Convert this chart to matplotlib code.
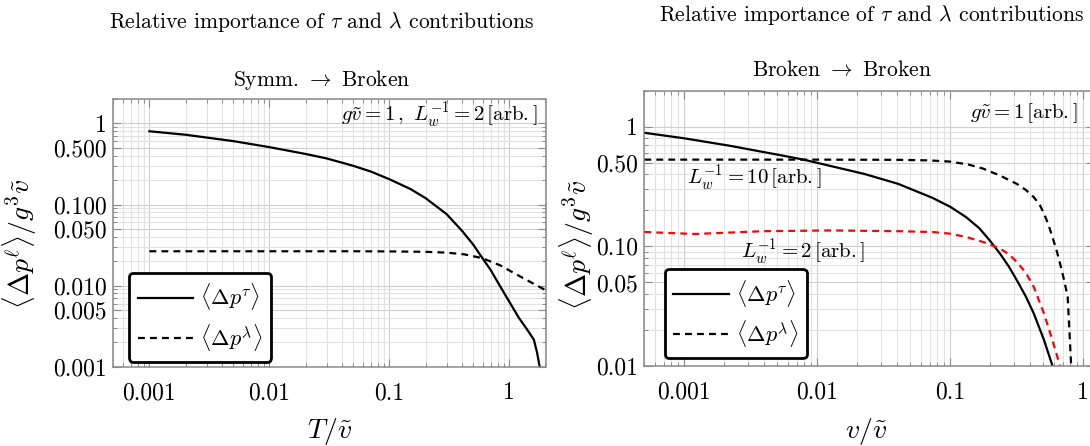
import matplotlib
matplotlib.use("Agg")
import matplotlib.pyplot as plt
from matplotlib.ticker import LogLocator, NullFormatter

plt.rcParams['font.family'] = 'serif'
plt.rcParams['font.serif'] = ['cmr10', 'DejaVu Serif']
plt.rcParams['mathtext.fontset'] = 'cm'
plt.rcParams['axes.formatter.use_mathtext'] = True

# Symm. -> Broken (x = T / v~)
T_tau = [0.001, 0.002, 0.005, 0.01, 0.02, 0.03, 0.05, 0.07, 0.1, 0.15, 0.2, 0.3, 0.4, 0.5,
         0.6, 0.7, 0.8, 1.0, 1.2, 1.4, 1.6, 1.7, 1.8]
p_tau_sym = [0.80, 0.725, 0.605, 0.51, 0.42, 0.37, 0.30, 0.255, 0.205, 0.155, 0.12, 0.076, 0.048, 0.032,
             0.0215, 0.0155, 0.011, 0.0063, 0.0040, 0.0029, 0.00215, 0.0015, 0.00095]

T_lam = [0.001, 0.01, 0.05, 0.1, 0.2, 0.3, 0.42, 0.594, 0.837, 1.18, 1.6, 2.0]
p_lam_sym = [0.0265, 0.0265, 0.0265, 0.0264, 0.0261, 0.0255, 0.0243, 0.0218, 0.0178, 0.0134, 0.0105, 0.0088]

# Broken -> Broken (x = v / v~)
v_tau = [0.0005, 0.001, 0.00217, 0.005, 0.00787, 0.0226, 0.0406, 0.0731, 0.1, 0.131, 0.165, 0.198, 0.236,
         0.275, 0.316, 0.37, 0.424, 0.506, 0.585, 0.595]
p_tau_brk = [0.89, 0.80, 0.695, 0.585, 0.531, 0.403, 0.333, 0.255, 0.214, 0.176, 0.142, 0.112, 0.0871,
             0.068, 0.0522, 0.038, 0.0275, 0.0165, 0.0101, 0.0095]

v_lam10 = [0.0005, 0.01, 0.0406, 0.07, 0.098, 0.135, 0.176, 0.236, 0.316, 0.37, 0.424, 0.47, 0.506, 0.545,
           0.585, 0.63, 0.678, 0.72, 0.762, 0.785, 0.808, 0.815]
p_lam10 = [0.531, 0.531, 0.529, 0.523, 0.512, 0.485, 0.447, 0.391, 0.333, 0.296, 0.258, 0.222, 0.188, 0.153,
           0.12, 0.092, 0.0675, 0.051, 0.0379, 0.020, 0.0105, 0.009]

v_lam2 = [0.0005, 0.0012, 0.0039, 0.0126, 0.0406, 0.0731, 0.098, 0.131, 0.176, 0.236, 0.275, 0.316, 0.37,
          0.424, 0.506, 0.585, 0.66, 0.67]
p_lam2 = [0.132, 0.127, 0.134, 0.136, 0.134, 0.132, 0.128, 0.12, 0.109, 0.096, 0.086, 0.0743, 0.060,
          0.0459, 0.0275, 0.0165, 0.0105, 0.0095]

xticks = [0.001, 0.01, 0.1, 1]
xticklabels = ['0.001', '0.01', '0.1', '1']
yticks_sym = [1, 0.5, 0.1, 0.05, 0.01, 0.005, 0.001]
yticklabels_sym = ['1', '0.500', '0.100', '0.050', '0.010', '0.005', '0.001']
yticks_brk = [1, 0.5, 0.1, 0.05, 0.01]
yticklabels_brk = ['1', '0.50', '0.10', '0.05', '0.01']

dash = (0, (3.1, 2.3))
frame_col = '#8a8a8a'


def style_axes(ax, xlim, ylim, yticks, yticklabels):
    ax.set_xscale('log')
    ax.set_yscale('log')
    ax.set_xlim(*xlim)
    ax.set_ylim(*ylim)
    ax.set_xticks(xticks, xticklabels)
    ax.set_yticks(yticks, yticklabels)
    ax.xaxis.set_minor_locator(LogLocator(base=10, subs=range(2, 10), numticks=20))
    ax.yaxis.set_minor_locator(LogLocator(base=10, subs=range(2, 10), numticks=20))
    ax.xaxis.set_minor_formatter(NullFormatter())
    ax.yaxis.set_minor_formatter(NullFormatter())
    ax.grid(True, which='major', color='#cfcfcf', lw=0.8)
    ax.grid(True, which='minor', color='#e2e2e2', lw=0.8)
    ax.set_axisbelow(True)
    for s in ax.spines.values():
        s.set_color(frame_col)
        s.set_linewidth(1.1)
    ax.tick_params(which='both', direction='in', top=True, right=True, color=frame_col, labelsize=17)
    ax.tick_params(which='major', length=5.5, width=0.8)
    ax.tick_params(which='minor', length=3, width=0.7)
    ax.tick_params(axis='x', pad=11)
    ax.tick_params(axis='y', pad=4.5)


def add_legend(ax, anchor):
    leg = ax.legend(loc='lower left', bbox_to_anchor=anchor, borderaxespad=0, fontsize=16,
                    handlelength=2.5, labelspacing=0.42, borderpad=0.4, handletextpad=0.3,
                    fancybox=True, framealpha=1)
    leg.get_frame().set_edgecolor('black')
    leg.get_frame().set_linewidth(2)


fig = plt.figure(figsize=(10.9, 4.46), dpi=100)

# left panel
ax1 = fig.add_axes([113.3 / 1090, 1 - 366.7 / 446, 432.2 / 1090, 267.7 / 446])
ax1.plot(T_tau, p_tau_sym, color='black', lw=1.6, label=r'$\langle \Delta p^{\tau} \rangle$')
ax1.plot(T_lam, p_lam_sym, color='black', lw=1.6, ls=dash, label=r'$\langle \Delta p^{\lambda} \rangle$')
style_axes(ax1, (0.0005, 2), (0.001, 2), yticks_sym, yticklabels_sym)
ax1.text(0.981, 0.938, r'$g\tilde{v}=1\,,\ L_w^{-1}=2\,[\mathrm{arb.}]$', transform=ax1.transAxes,
         ha='right', va='center', fontsize=15)
ax1.set_xlabel(r'$T/\tilde{v}$', fontsize=20, va='center', ha='center')
ax1.xaxis.set_label_coords(0.50, -0.243)
ax1.set_ylabel(r'$\langle \Delta p^{\ell} \rangle / g^3 \tilde{v}$', fontsize=20, va='center', ha='center')
ax1.yaxis.set_label_coords(-0.216, 0.46)
add_legend(ax1, (0.036, 0.019))

# right panel
ax2 = fig.add_axes([644.3 / 1090, 1 - 366.1 / 446, 449.6 / 1090, 275.4 / 446])
ax2.plot(v_tau, p_tau_brk, color='black', lw=1.6, label=r'$\langle \Delta p^{\tau} \rangle$')
ax2.plot(v_lam10, p_lam10, color='black', lw=1.6, ls=dash, label=r'$\langle \Delta p^{\lambda} \rangle$')
ax2.plot(v_lam2, p_lam2, color='#ff0000', lw=1.6, ls=dash, label='_nolegend_')
style_axes(ax2, (0.0005, 1.2), (0.01, 2), yticks_brk, yticklabels_brk)
ax2.text(0.964, 0.919, r'$g\tilde{v}=1\,[\mathrm{arb.}]$', transform=ax2.transAxes,
         ha='right', va='center', fontsize=15)
ax2.text(0.094, 0.683, r'$L_w^{-1}=10\,[\mathrm{arb.}]$', transform=ax2.transAxes,
         ha='left', va='center', fontsize=15)
ax2.text(0.215, 0.415, r'$L_w^{-1}=2\,[\mathrm{arb.}]$', transform=ax2.transAxes,
         ha='left', va='center', fontsize=15)
ax2.set_xlabel(r'$v/\tilde{v}$', fontsize=20, va='center', ha='center')
ax2.xaxis.set_label_coords(0.493, -0.238)
ax2.set_ylabel(r'$\langle \Delta p^{\ell} \rangle / g^3 \tilde{v}$', fontsize=20, va='center', ha='center')
ax2.yaxis.set_label_coords(-0.15, 0.44)
add_legend(ax2, (0.045, 0.029))

# titles
fig.text(322 / 1090, 1 - 22 / 446, r'Relative importance of $\tau$ and $\lambda$ contributions',
         ha='center', va='center', fontsize=15.5)
fig.text(322 / 1090, 1 - 80 / 446, r'Symm. $\rightarrow$ Broken', ha='center', va='center', fontsize=15.5)
fig.text(872 / 1090, 1 - 15 / 446, r'Relative importance of $\tau$ and $\lambda$ contributions',
         ha='center', va='center', fontsize=15.5)
fig.text(842 / 1090, 1 - 70 / 446, r'Broken $\rightarrow$ Broken', ha='center', va='center', fontsize=15.5)

fig.savefig('out.png', dpi=100)
